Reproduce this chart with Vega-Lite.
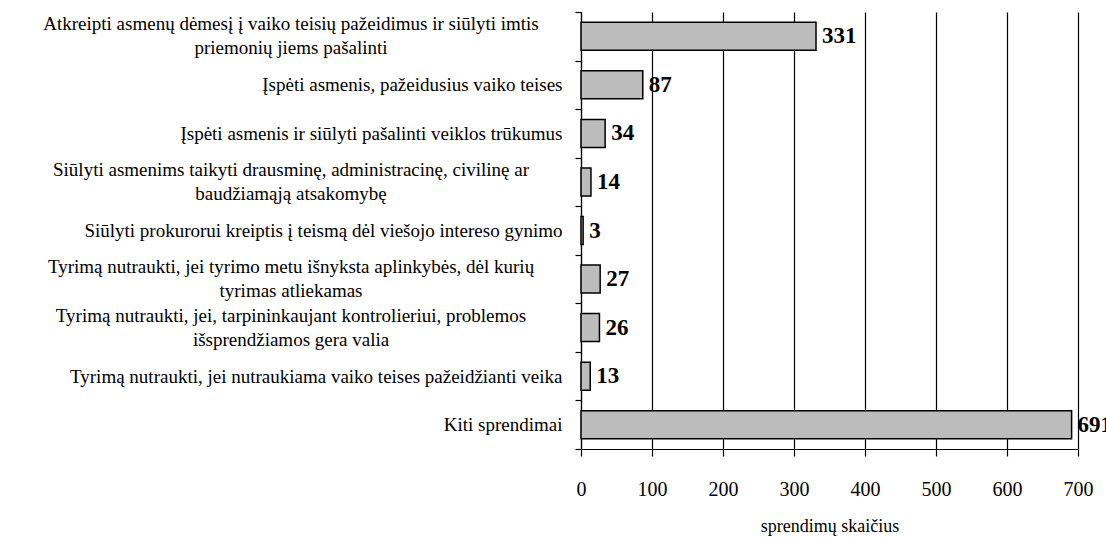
{
  "$schema": "https://vega.github.io/schema/vega-lite/v6.json",
  "autosize": "none",
  "width": 497,
  "height": 437,
  "padding": {"left": 581, "top": 12, "right": 28, "bottom": 88},
  "background": "white",
  "data": {
    "values": [
      {"category": "Atkreipti asmenų dėmesį į vaiko teisių pažeidimus ir siūlyti imtis|priemonių jiems pašalinti", "count": 331},
      {"category": "Įspėti asmenis, pažeidusius vaiko teises", "count": 87},
      {"category": "Įspėti asmenis ir siūlyti pašalinti veiklos trūkumus", "count": 34},
      {"category": "Siūlyti asmenims taikyti drausminę, administracinę, civilinę ar|baudžiamąją atsakomybę", "count": 14},
      {"category": "Siūlyti prokurorui kreiptis į teismą dėl viešojo intereso gynimo", "count": 3},
      {"category": "Tyrimą nutraukti, jei tyrimo metu išnyksta aplinkybės, dėl kurių|tyrimas atliekamas", "count": 27},
      {"category": "Tyrimą nutraukti, jei, tarpininkaujant kontrolieriui, problemos|išsprendžiamos gera valia", "count": 26},
      {"category": "Tyrimą nutraukti, jei nutraukiama vaiko teises pažeidžianti veika", "count": 13},
      {"category": "Kiti sprendimai", "count": 691}
    ]
  },
  "encoding": {
    "y": {
      "field": "category",
      "type": "nominal",
      "sort": null,
      "scale": {"paddingInner": 0, "paddingOuter": 0},
      "axis": {
        "title": null,
        "tickBand": "extent",
        "domainColor": "black",
        "domainWidth": 1.2,
        "tickColor": "black",
        "tickWidth": 1.2,
        "tickSize": 6,
        "grid": false,
        "labelFont": "Liberation Serif",
        "labelFontSize": 19,
        "labelColor": "black",
        "labelLimit": 0,
        "labelPadding": 13,
        "labelExpr": "indexof(datum.label, '|') >= 0 ? '' : datum.label"
      }
    },
    "x": {
      "field": "count",
      "type": "quantitative",
      "scale": {"domain": [0, 700], "nice": false},
      "axis": {
        "title": "sprendimų skaičius",
        "titleFont": "Liberation Serif",
        "titleFontSize": 18,
        "titleFontWeight": "normal",
        "titleColor": "black",
        "titlePadding": 18,
        "values": [0, 100, 200, 300, 400, 500, 600, 700],
        "grid": true,
        "gridColor": "black",
        "gridWidth": 1.2,
        "gridOpacity": 1,
        "domainColor": "black",
        "domainWidth": 1.2,
        "tickColor": "black",
        "tickWidth": 1.2,
        "tickSize": 7,
        "labelFont": "Liberation Serif",
        "labelFontSize": 20,
        "labelColor": "black",
        "labelPadding": 23,
        "labelFlush": false
      }
    }
  },
  "layer": [
    {
      "mark": {"type": "bar", "size": 28, "fill": "#bcbcbc", "stroke": "black", "strokeWidth": 1.5}
    },
    {
      "mark": {"type": "text", "align": "left", "baseline": "middle", "dx": 6, "font": "Liberation Serif", "fontSize": 23, "fontWeight": "bold", "fill": "black"},
      "encoding": {"text": {"field": "count", "type": "quantitative"}}
    },
    {
      "transform": [{"filter": "indexof(datum.category, '|') >= 0"}],
      "mark": {"type": "text", "align": "center", "baseline": "middle", "lineBreak": "|", "lineHeight": 24, "dx": -290, "dy": -12, "font": "Liberation Serif", "fontSize": 19, "fill": "black", "clip": false},
      "encoding": {
        "x": {"datum": 0},
        "text": {"field": "category", "type": "nominal"}
      }
    }
  ],
  "config": {"view": {"stroke": null}}
}
